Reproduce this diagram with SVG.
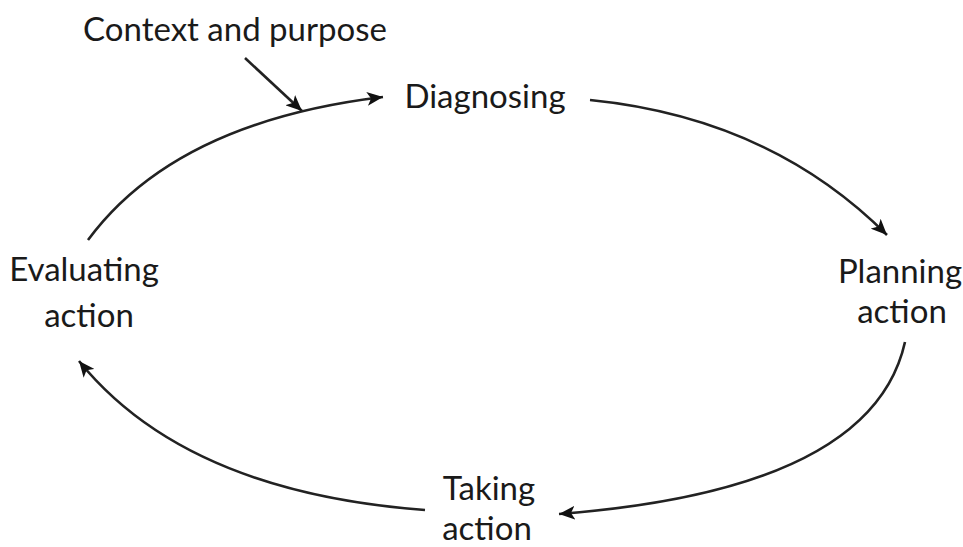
<svg xmlns="http://www.w3.org/2000/svg" width="963" height="547" viewBox="0 0 963 547">
<style>
text{font-family:Lato,"Open Sans",sans-serif;font-size:33px;fill:#1a1a1a;text-anchor:middle}
.c{fill:none;stroke:#222;stroke-width:2.6}
</style>
<defs>
<marker id="ah" markerUnits="userSpaceOnUse" markerWidth="18" markerHeight="14" refX="16" refY="7" orient="auto">
<path d="M0,0 L16,7 L0,14 L4,7 Z" fill="#111"/>
</marker>
</defs>
<rect width="963" height="547" fill="#fff"/>
<g id="context"><text x="235" y="41">Context and purpose</text></g>
<g id="diagnosing"><text x="485" y="108">Diagnosing</text></g>
<g id="planning"><text x="900" y="283">Planning</text><text x="902" y="323">action</text></g>
<g id="taking"><text x="489" y="500">Taking</text><text x="487" y="540">action</text></g>
<g id="evaluating"><text x="84" y="281">Evaluating</text><text x="89" y="327">action</text></g>
<g id="connectors">
<path class="c" d="M245,58 L302,111" marker-end="url(#ah)"/>
<path class="c" d="M88,240 Q175,122 383,97" marker-end="url(#ah)"/>
<path class="c" d="M590,100 Q770,118 887,235" marker-end="url(#ah)"/>
<path class="c" d="M905,342 Q872,490 559,514" marker-end="url(#ah)"/>
<path class="c" d="M425,510 Q185,492 79,361" marker-end="url(#ah)"/>
</g>
</svg>
